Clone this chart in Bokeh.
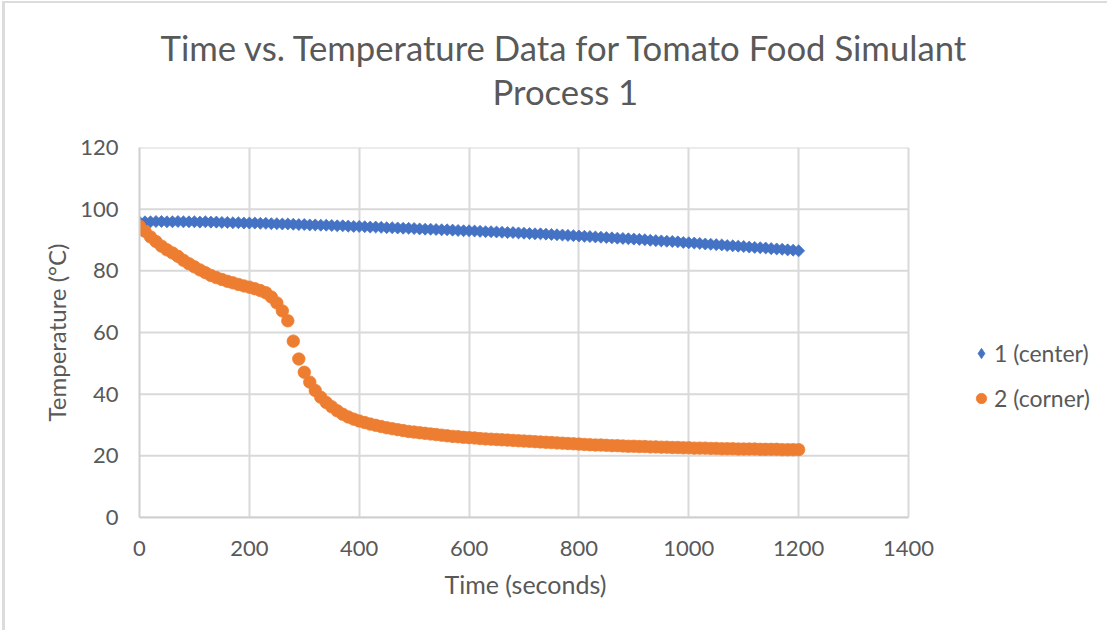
from bokeh.plotting import figure
from bokeh.models import Legend, LegendItem, FixedTicker, Title
from bokeh.embed import file_html
from bokeh.resources import INLINE
import numpy as np

# Sampling times (s) and thermocouple readings (°C)
time_s = list(range(0, 1201, 10))

center_temp = [
    95.8, 95.9, 95.9, 96.0, 96.0, 95.9, 95.9, 96.0, 95.9, 95.9, 95.9,
    95.8, 95.9, 95.8, 95.8, 95.7, 95.7, 95.6, 95.6, 95.5, 95.5,
    95.5, 95.4, 95.4, 95.3, 95.3, 95.2, 95.2, 95.1, 95.0, 95.0,
    94.9, 94.9, 94.8, 94.8, 94.7, 94.6, 94.6, 94.5, 94.4, 94.4,
    94.3, 94.2, 94.2, 94.1, 94.0, 94.0, 93.9, 93.8, 93.8, 93.7,
    93.6, 93.5, 93.5, 93.4, 93.3, 93.3, 93.2, 93.1, 93.0, 93.0,
    92.9, 92.8, 92.7, 92.7, 92.6, 92.5, 92.4, 92.4, 92.3, 92.2,
    92.1, 92.0, 92.0, 91.9, 91.8, 91.7, 91.6, 91.5, 91.4, 91.3,
    91.2, 91.1, 91.0, 90.9, 90.8, 90.7, 90.6, 90.5, 90.4, 90.3,
    90.2, 90.1, 89.9, 89.8, 89.7, 89.6, 89.5, 89.4, 89.2, 89.1,
    89.0, 88.9, 88.7, 88.6, 88.5, 88.4, 88.2, 88.1, 88.0, 87.9,
    87.7, 87.6, 87.5, 87.4, 87.2, 87.1, 87.0, 86.8, 86.7, 86.5,
]

corner_temp = [
    94.5, 92.8, 91.0, 89.5, 88.0, 86.8, 85.8, 84.7, 83.4, 82.3, 81.3,
    80.3, 79.4, 78.5, 77.8, 77.2, 76.6, 76.1, 75.6, 75.1, 74.7,
    74.2, 73.6, 72.9, 71.5, 69.6, 67.0, 63.8, 57.2, 51.4, 47.1,
    43.9, 41.2, 39.0, 37.3, 35.9, 34.6, 33.5, 32.6, 31.9, 31.3,
    30.8, 30.3, 29.9, 29.5, 29.1, 28.8, 28.5, 28.2, 27.9, 27.7,
    27.5, 27.3, 27.1, 26.9, 26.7, 26.5, 26.3, 26.2, 26.0, 25.9,
    25.8, 25.6, 25.5, 25.4, 25.3, 25.2, 25.1, 25.0, 24.9, 24.8,
    24.7, 24.6, 24.5, 24.4, 24.3, 24.2, 24.1, 24.0, 23.9, 23.8,
    23.7, 23.6, 23.5, 23.5, 23.4, 23.3, 23.3, 23.2, 23.1, 23.1,
    23.0, 23.0, 22.9, 22.9, 22.8, 22.8, 22.7, 22.7, 22.6, 22.6,
    22.5, 22.5, 22.5, 22.4, 22.4, 22.3, 22.3, 22.3, 22.2, 22.2,
    22.2, 22.2, 22.1, 22.1, 22.1, 22.1, 22.0, 22.0, 22.0, 22.0,
]

series_names = ["1 (center)", "2 (corner)"]
x_ticks = [0, 200, 400, 600, 800, 1000, 1200, 1400]
y_ticks = [0, 20, 40, 60, 80, 100, 120]

title_lines = ["Time vs. Temperature Data for Tomato Food Simulant", "Process 1"]
x_title = "Time (seconds)"
y_title = "Temperature (°C)"

FONT = "Lato"
TEXT = "#595959"
GRID = "#d9d9d9"
BLUE = "#4472C4"
ORANGE = "#ED7D31"

# Canvas / plot-area geometry (pixels)
W, H = 1105, 629
LEFT, TOP, BOTTOM = 134, 144, 115
AXIS_PX = 769                      # width taken by the 0..1400 s span
frame_w = W - LEFT                 # plot area runs to the right edge; legend lives there
x_max = x_ticks[-1]
x_end = x_max * frame_w / AXIS_PX

p = figure(
    width=W, height=H,
    x_range=(0, x_end), y_range=(y_ticks[0], y_ticks[-1]),
    output_backend="svg", toolbar_location=None,
    min_border_left=LEFT, min_border_right=0,
    min_border_top=TOP, min_border_bottom=BOTTOM,
)
p.styles = {
    "margin-left": "2px", "margin-top": "1px",
    "border-left": "3px solid #dcdcdc", "border-top": "2px solid #dcdcdc",
}
p.background_fill_color = "white"
p.border_fill_color = "white"
p.outline_line_color = None

for ax, ticks in ((p.xaxis, x_ticks), (p.yaxis, y_ticks)):
    ax.ticker = FixedTicker(ticks=ticks)
    ax.bounds = (ticks[0], ticks[-1])
    ax.axis_line_color = "#cfcfcf"
    ax.axis_line_width = 2
    ax.major_tick_line_color = None
    ax.minor_tick_line_color = None
    ax.major_label_text_font = FONT
    ax.major_label_text_font_size = "22px"
    ax.major_label_text_color = TEXT
    ax.axis_label_text_font = FONT
    ax.axis_label_text_font_style = "normal"
    ax.axis_label_text_color = TEXT

p.yaxis.axis_label = y_title
p.yaxis.axis_label_text_font_size = "24px"
p.xaxis.major_label_standoff = 17
p.yaxis.major_label_standoff = 15
p.yaxis.axis_label_standoff = 6

# x-axis title centred under the 0..1400 span (the plot area itself is wider)
x_label = Title(text=x_title, align="left", offset=305, standoff=16,
                text_font=FONT, text_font_size="25px", text_font_style="normal",
                text_color=TEXT)
p.add_layout(x_label, "below")

# Vertical gridlines from the x ticks; horizontal ones stop at the last x tick
p.xgrid.ticker = FixedTicker(ticks=x_ticks)
p.xgrid.grid_line_color = GRID
p.xgrid.grid_line_width = 2
p.ygrid.visible = False
p.segment(x0=[x_ticks[0]] * len(y_ticks), x1=[x_max] * len(y_ticks),
          y0=y_ticks, y1=y_ticks, line_color=GRID, line_width=2, level="underlay")

r_center = p.scatter(time_s, center_temp, marker="square", angle=np.pi / 4,
                     size=8.5, fill_color=BLUE, line_color=BLUE, line_width=0.75)
r_corner = p.scatter(time_s, corner_temp, marker="circle",
                     size=12.5, fill_color=ORANGE, line_color=ORANGE, line_width=0.75)

# Legend swatch for series 1 (legend swatches are drawn unrotated, so use a diamond)
center_key = p.scatter(time_s, center_temp, marker="diamond", fill_color=BLUE,
                       line_color=BLUE, line_width=0.75, visible=False)

legend = Legend(
    items=[LegendItem(label=series_names[0], renderers=[center_key]),
           LegendItem(label=series_names[1], renderers=[r_corner])],
    location=(829, 105),
    orientation="vertical",
    label_text_font=FONT, label_text_font_size="23px", label_text_color=TEXT,
    glyph_width=26, glyph_height=26, label_height=20,
    label_standoff=0, spacing=17, padding=0, margin=0,
    border_line_color=None, background_fill_alpha=0,
    inactive_fill_alpha=0,
)
p.add_layout(legend)

# Two-line chart title; the lower line is added first so it sits next to the plot area
sub = Title(text=title_lines[1], align="left", offset=353, standoff=72,
            text_font=FONT, text_font_size="34.7px", text_font_style="normal",
            text_color=TEXT)
main = Title(text=title_lines[0], align="left", offset=21, standoff=-70,
             text_font=FONT, text_font_size="34.7px", text_font_style="normal",
             text_color=TEXT)
p.add_layout(sub, "above")
p.add_layout(main, "above")

open("out.html", "w").write(file_html(p, INLINE))
